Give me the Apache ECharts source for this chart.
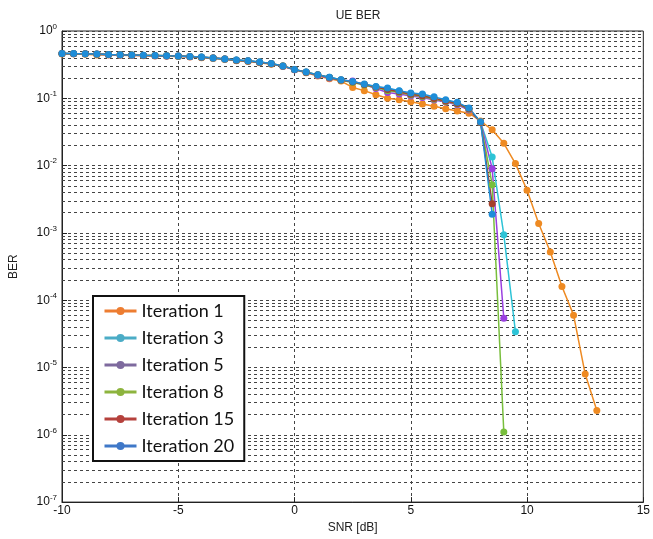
<!DOCTYPE html>
<html lang="en">
<head>
    <meta charset="UTF-8">
    <title>UE BER</title>
    <script src="https://cdn.jsdelivr.net/npm/echarts@6.0.0/dist/echarts.min.js"></script>
</head>
<body style="margin:0;background:#fff">
<div style="width:653px;height:539px" id="main"></div>
</body>
</html>

<script>
    // SNR points, 0.5 dB step
    var snr = [-10, -9.5, -9, -8.5, -8, -7.5, -7, -6.5, -6, -5.5, -5, -4.5, -4, -3.5, -3, -2.5, -2, -1.5, -1, -0.5,
        0, 0.5, 1, 1.5, 2, 2.5, 3, 3.5, 4, 4.5, 5, 5.5, 6, 6.5, 7, 7.5, 8, 8.5, 9, 9.5, 10, 10.5, 11, 11.5, 12, 12.5, 13];

    var iter1 = [0.455, 0.458, 0.45, 0.44, 0.44, 0.436, 0.432, 0.43, 0.425, 0.42, 0.418, 0.41, 0.4, 0.39, 0.377,
        0.362, 0.352, 0.338, 0.32, 0.298, 0.265, 0.24, 0.215, 0.195, 0.18, 0.145, 0.13, 0.113, 0.1, 0.095, 0.089,
        0.082, 0.076, 0.07, 0.065, 0.06, 0.046, 0.034, 0.0214, 0.0107, 0.0043, 0.00138, 0.00052, 0.00016, 0.00006,
        0.000008, 0.0000023];
    var iter3 = [0.465, 0.462, 0.46, 0.455, 0.447, 0.443, 0.44, 0.435, 0.432, 0.428, 0.425, 0.418, 0.41, 0.398, 0.385,
        0.37, 0.36, 0.345, 0.328, 0.303, 0.268, 0.245, 0.224, 0.205, 0.188, 0.176, 0.16, 0.148, 0.14, 0.128, 0.118,
        0.112, 0.1, 0.092, 0.085, 0.07, 0.044, 0.0134, 0.00094, 0.000034];
    var iter5 = [0.463, 0.46, 0.458, 0.452, 0.445, 0.44, 0.438, 0.433, 0.43, 0.425, 0.42, 0.415, 0.408, 0.396, 0.383,
        0.368, 0.358, 0.342, 0.325, 0.3, 0.266, 0.243, 0.218, 0.2, 0.186, 0.18, 0.16, 0.14, 0.122, 0.116, 0.108,
        0.103, 0.094, 0.088, 0.08, 0.067, 0.044, 0.009, 0.000054];
    var iter8 = [0.464, 0.461, 0.459, 0.453, 0.446, 0.442, 0.439, 0.434, 0.431, 0.427, 0.423, 0.417, 0.409, 0.397, 0.384,
        0.369, 0.359, 0.344, 0.326, 0.301, 0.267, 0.244, 0.222, 0.203, 0.186, 0.172, 0.158, 0.145, 0.13, 0.122, 0.112,
        0.106, 0.097, 0.09, 0.082, 0.069, 0.044, 0.0052, 0.0000011];
    var iter15 = [0.464, 0.461, 0.459, 0.454, 0.446, 0.442, 0.439, 0.434, 0.431, 0.427, 0.424, 0.417, 0.409, 0.397, 0.384,
        0.369, 0.359, 0.344, 0.327, 0.302, 0.267, 0.244, 0.223, 0.204, 0.187, 0.175, 0.16, 0.147, 0.135, 0.125, 0.115,
        0.109, 0.099, 0.091, 0.084, 0.07, 0.044, 0.0027];
    var iter20 = [0.465, 0.462, 0.46, 0.455, 0.447, 0.443, 0.44, 0.435, 0.432, 0.428, 0.425, 0.418, 0.41, 0.398, 0.385,
        0.37, 0.36, 0.345, 0.328, 0.303, 0.268, 0.245, 0.224, 0.205, 0.188, 0.178, 0.163, 0.15, 0.142, 0.13, 0.12,
        0.116, 0.105, 0.095, 0.087, 0.072, 0.045, 0.0019];

    var names = ['Iteration 1', 'Iteration 3', 'Iteration 5', 'Iteration 8', 'Iteration 15', 'Iteration 20'];
    var values = [iter1, iter3, iter5, iter8, iter15, iter20];
    var lineColors = ['#EE8A22', '#2DC3D6', '#9A3FE0', '#78BE3C', '#A5402A', '#1E8DD8'];
    var legendColors = ['#ED7D31', '#4BACC6', '#7E6A9E', '#8DB43E', '#B5413C', '#3F78C8'];

    var chartDom = document.getElementById('main');
    var myChart = echarts.init(chartDom);

    // minor log grid lines (2..9 per decade), drawn across the x range
    var minorLines = [];
    for (var d = -7; d < 0; d++) {
        for (var m = 2; m <= 9; m++) {
            var v = m * Math.pow(10, d);
            minorLines.push({coords: [[-10, v], [15, v]]});
        }
    }

    var series = [{
        name: 'grid',
        type: 'lines',
        coordinateSystem: 'cartesian2d',
        polyline: false,
        silent: true,
        z: 1,
        lineStyle: {color: '#444', width: 1, type: [3, 3], opacity: 1},
        data: minorLines
    }];

    for (var i = 0; i < names.length; i++) {
        var pts = [];
        for (var j = 0; j < values[i].length; j++) {
            pts.push([snr[j], values[i][j]]);
        }
        series.push({
            name: names[i],
            type: 'line',
            data: pts,
            symbol: 'circle',
            symbolSize: 7,
            showAllSymbol: true,
            z: 3,
            color: lineColors[i],
            lineStyle: {width: 1.5, color: lineColors[i]},
            itemStyle: {color: lineColors[i]}
        });
    }

    var legendData = names.map(function (n, k) {
        return {
            name: n,
            itemStyle: {color: legendColors[k]},
            lineStyle: {color: legendColors[k], width: 3}
        };
    });

    var option = {
        animation: false,
        backgroundColor: '#fff',
        title: {
            text: 'UE BER',
            left: 353,
            textAlign: 'center',
            top: 5,
            textStyle: {fontFamily: 'Liberation Sans', fontSize: 12, fontWeight: 'normal', color: '#222'}
        },
        grid: {
            left: 62,
            right: 9,
            top: 31,
            bottom: 35,
            show: true,
            borderColor: '#222',
            borderWidth: 1
        },
        legend: {
            orient: 'vertical',
            left: 93,
            top: 296,
            data: legendData,
            itemWidth: 32,
            itemHeight: 10,
            itemGap: 7,
            padding: [5, 10, 5, 10],
            borderColor: '#111',
            borderWidth: 2,
            backgroundColor: '#fff',
            textStyle: {fontFamily: 'Lato', fontSize: 18, color: '#111', lineHeight: 20}
        },
        xAxis: {
            type: 'value',
            min: -10,
            max: 15,
            interval: 5,
            name: 'SNR [dB]',
            nameLocation: 'middle',
            nameGap: 9,
            nameTextStyle: {fontFamily: 'Liberation Sans', fontSize: 12, color: '#222'},
            axisLine: {onZero: false, lineStyle: {color: '#222'}},
            axisTick: {inside: true, length: 5, lineStyle: {color: '#222'}},
            axisLabel: {margin: 3, fontFamily: 'Liberation Sans', fontSize: 12, color: '#111'},
            splitLine: {show: true, lineStyle: {color: '#444', type: [3, 3]}}
        },
        yAxis: {
            type: 'log',
            logBase: 10,
            min: 1e-7,
            max: 1,
            splitNumber: 7,
            name: 'BER',
            nameLocation: 'middle',
            nameGap: 42,
            nameTextStyle: {fontFamily: 'Liberation Sans', fontSize: 12, color: '#222'},
            axisLine: {onZero: false, lineStyle: {color: '#222'}},
            axisTick: {inside: true, length: 5, lineStyle: {color: '#222'}},
            axisLabel: {
                margin: 5,
                fontFamily: 'Liberation Sans',
                color: '#111',
                formatter: function (v) {
                    var e = Math.round(Math.log10(v));
                    return '{b|10}{s|' + e + '}';
                },
                rich: {
                    b: {fontSize: 12, fontFamily: 'Liberation Sans', color: '#111'},
                    s: {fontSize: 8, fontFamily: 'Liberation Sans', color: '#111', padding: [0, 0, 9, 0]}
                }
            },
            splitLine: {show: true, lineStyle: {color: '#444', type: [3, 3]}}
        },
        series: series
    };

    myChart.setOption(option);
</script>
